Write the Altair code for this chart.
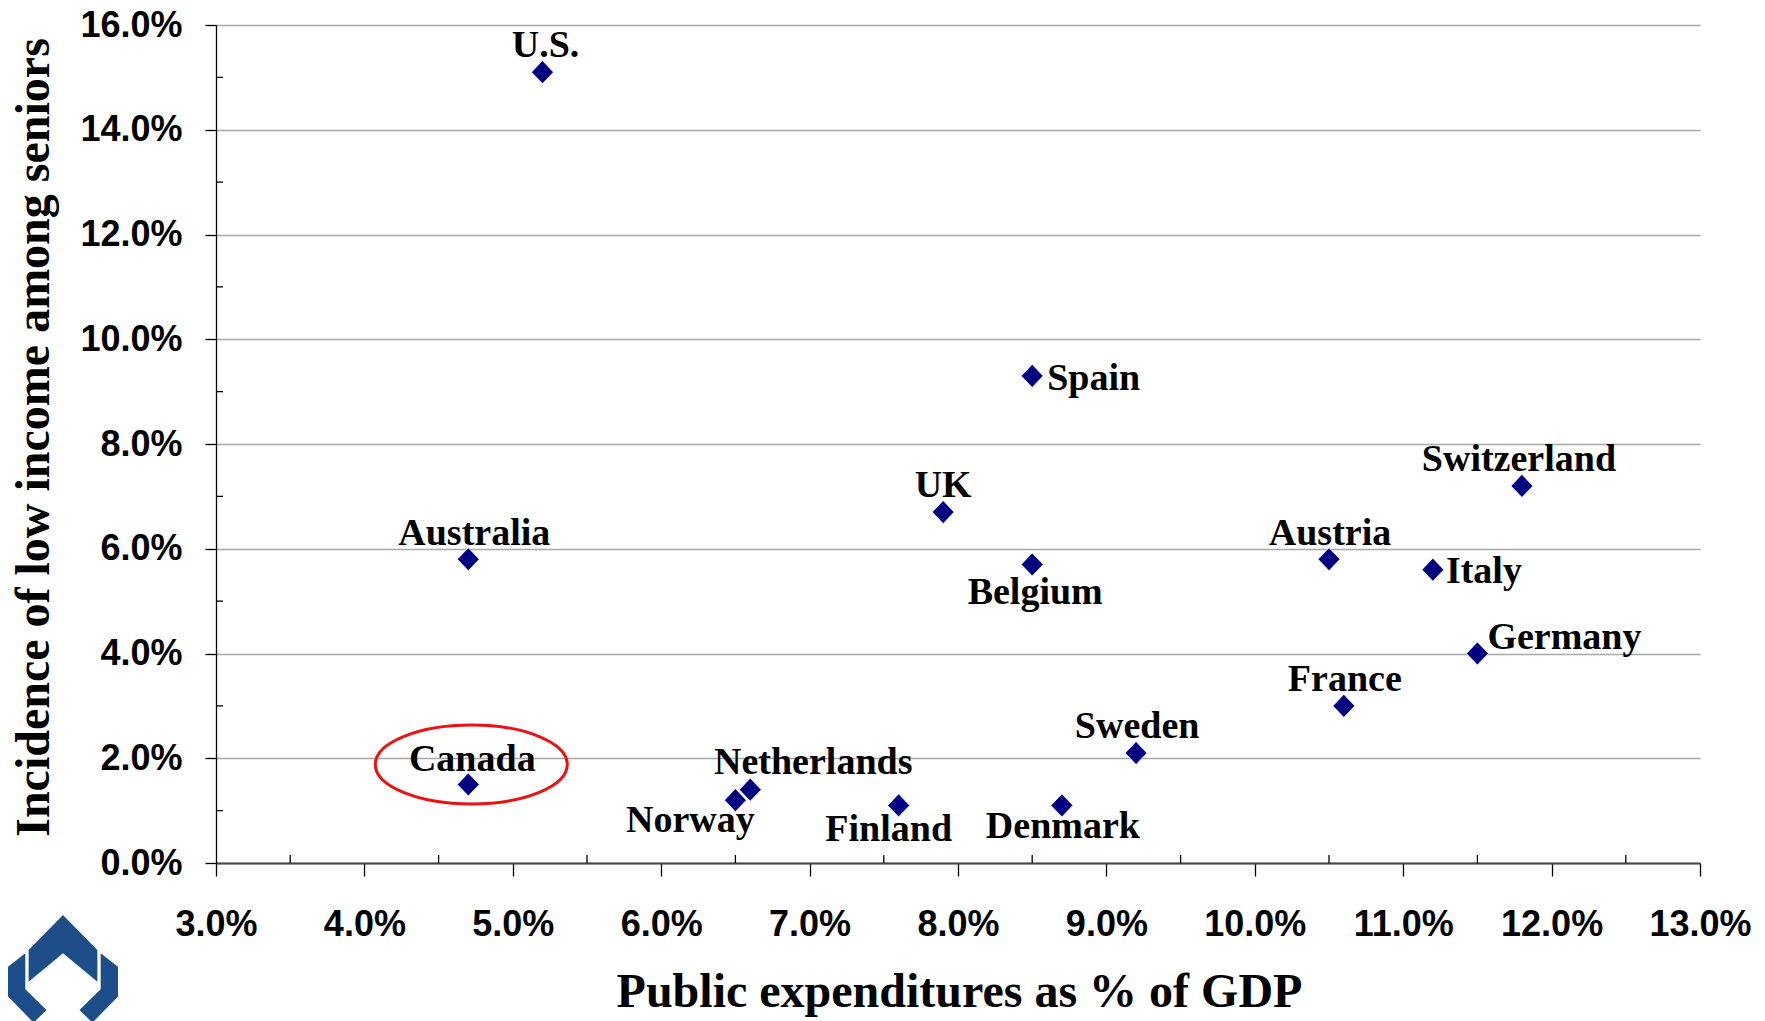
import altair as alt
import pandas as pd

# Public pension spending vs. senior low-income rate, by country
countries = ["U.S.", "Spain", "UK", "Belgium", "Australia", "Canada", "Norway",
             "Netherlands", "Finland", "Denmark", "Sweden", "France", "Austria",
             "Italy", "Germany", "Switzerland"]
spending = [5.2, 8.5, 7.9, 8.5, 4.7, 4.7, 6.5, 6.6, 7.6, 8.7, 9.2, 10.6, 10.5,
            11.2, 11.5, 11.8]
low_income = [15.1, 9.3, 6.7, 5.7, 5.8, 1.5, 1.2, 1.4, 1.1, 1.1, 2.1, 3.0, 5.8,
              5.6, 4.0, 7.2]

x_ticks = [3, 4, 5, 6, 7, 8, 9, 10, 11, 12, 13]
x_minor = [3.5, 4.5, 5.5, 6.5, 7.5, 8.5, 9.5, 10.5, 11.5, 12.5]
y_ticks = [0, 2, 4, 6, 8, 10, 12, 14, 16]
y_minor = [1, 3, 5, 7, 9, 11, 13, 15]

highlight = "Canada"

# label placement: (align, dx, dy) relative to each marker
placement = {
    "U.S.": ("center", 3, -15),
    "Spain": ("left", 15, 14),
    "UK": ("center", 0, -15),
    "Belgium": ("center", 3, 40),
    "Australia": ("center", 6, -14),
    "Canada": ("center", 4, -13),
    "Norway": ("center", -45, 32),
    "Netherlands": ("center", 63, -16),
    "Finland": ("center", -10, 36),
    "Denmark": ("center", 1, 33),
    "Sweden": ("center", 1, -15),
    "France": ("center", 1, -15),
    "Austria": ("center", 1, -14),
    "Italy": ("left", 13, 13),
    "Germany": ("left", 10, -5),
    "Switzerland": ("center", -3, -15),
}

W, H = 1484, 838
SERIF = "Liberation Serif"
SANS = "Liberation Sans"

df = pd.DataFrame({"country": countries, "spending": spending, "low": low_income})

x_scale = alt.Scale(domain=[3, 13], nice=False, zero=False)
y_scale = alt.Scale(domain=[0, 16], nice=False, zero=True)

x_axis = alt.Axis(
    values=x_ticks, grid=False,
    labelExpr="format(datum.value, '.1f') + '%'",
    labelFont=SANS, labelFontWeight="bold", labelFontSize=36, labelColor="black",
    labelBaseline="alphabetic", labelPadding=59, labelFlush=False, labelOverlap=False,
    tickSize=13, tickColor="black", tickWidth=1.3,
    domainColor="#444444", domainWidth=2.2,
    title="Public expenditures as % of GDP",
    titleFont=SERIF, titleFontWeight="bold", titleFontSize=48, titleColor="black",
    titleX=743, titleY=143, titleAlign="center", titleBaseline="alphabetic",
)
y_axis = alt.Axis(
    values=y_ticks, grid=True, gridColor="#a8a8a8", gridWidth=1.3,
    labelExpr="format(datum.value, '.1f') + '%'",
    labelFont=SANS, labelFontWeight="bold", labelFontSize=36, labelColor="black",
    labelBaseline="middle", labelPadding=23, labelOverlap=False, labelFlush=False,
    tickSize=11, tickColor="black", tickWidth=1.3,
    domainColor="black", domainWidth=1.3,
    title="Incidence of low income among seniors",
    titleFont=SERIF, titleFontWeight="bold", titleFontSize=48, titleColor="black",
    titleAngle=-90, titleX=-168, titleY=412, titleAlign="center",
    titleBaseline="alphabetic",
)


def xy(xf, yf):
    # every layer shares the same scales and identical axis definitions
    return dict(
        x=alt.X(xf, scale=x_scale, axis=x_axis),
        y=alt.Y(yf, scale=y_scale, axis=y_axis),
    )


base = alt.Chart(df)

points = base.mark_point(
    shape="M0,-1.05L1,0L0,1.05L-1,0Z", filled=True, size=484, fill="#000080",
    stroke="white", strokeWidth=0.8, opacity=1,
).encode(**xy("spending:Q", "low:Q"))

label_layers = []
for name, (align, dx, dy) in placement.items():
    label_layers.append(
        base.transform_filter(alt.datum.country == name).mark_text(
            align=align, baseline="alphabetic", dx=dx, dy=dy,
            font=SERIF, fontWeight="bold", fontSize=38, color="black",
        ).encode(text="country:N", **xy("spending:Q", "low:Q"))
    )

# red ellipse drawn around the highlighted country
ellipse_path = ("M-1,0 C-1,-0.227 -0.552,-0.411 0,-0.411 C0.552,-0.411 1,-0.227 1,0 "
                "C1,0.227 0.552,0.411 0,0.411 C-0.552,0.411 -1,0.227 -1,0 Z")
ring = base.transform_filter(alt.datum.country == highlight).mark_point(
    shape=ellipse_path, size=36864, filled=False, stroke="#ee1111",
    strokeWidth=3, opacity=1, xOffset=3, yOffset=-20,
).encode(**xy("spending:Q", "low:Q"))

# minor ticks: inward on both axes
xm = alt.Chart(pd.DataFrame({"v": x_minor})).mark_rule(
    color="black", strokeWidth=1.3
).encode(
    x=alt.X("v:Q", scale=x_scale, axis=x_axis),
    y=alt.value(H), y2=alt.value(H - 8),
)
ym = alt.Chart(pd.DataFrame({"v": y_minor})).mark_rule(
    color="black", strokeWidth=1.3
).encode(
    y=alt.Y("v:Q", scale=y_scale, axis=y_axis),
    x=alt.value(0), x2=alt.value(7),
)

# corner emblem
logo_path = ("M-0.625,-0.345 L0,-0.98 L0.625,-0.345 L0.625,0.23 L0,-0.285 L-0.625,0.23 Z "
             "M-0.685,-0.285 L-0.685,0.37 L-0.30,0.745 L-0.535,0.976 L-1,0.5 L-1,-0.04 Z "
             "M0.685,-0.285 L0.685,0.37 L0.30,0.745 L0.535,0.976 L1,0.5 L1,-0.04 Z")
logo = alt.Chart(pd.DataFrame({"k": [0]})).mark_point(
    shape=logo_path, size=12100, filled=True, fill="#1d4e89",
    strokeWidth=0, opacity=1,
).encode(x=alt.value(63 - 216), y=alt.value(969 - 25))

chart = alt.layer(points, xm, ym, ring, *label_layers, logo).properties(
    width=W, height=H,
    autosize=alt.AutoSizeParams(type="none"),
    padding={"left": 216, "top": 25, "right": 65, "bottom": 158},
    background="white",
).configure_view(stroke=None)

chart.save("out.html", embed_options={"renderer": "svg", "actions": False})
